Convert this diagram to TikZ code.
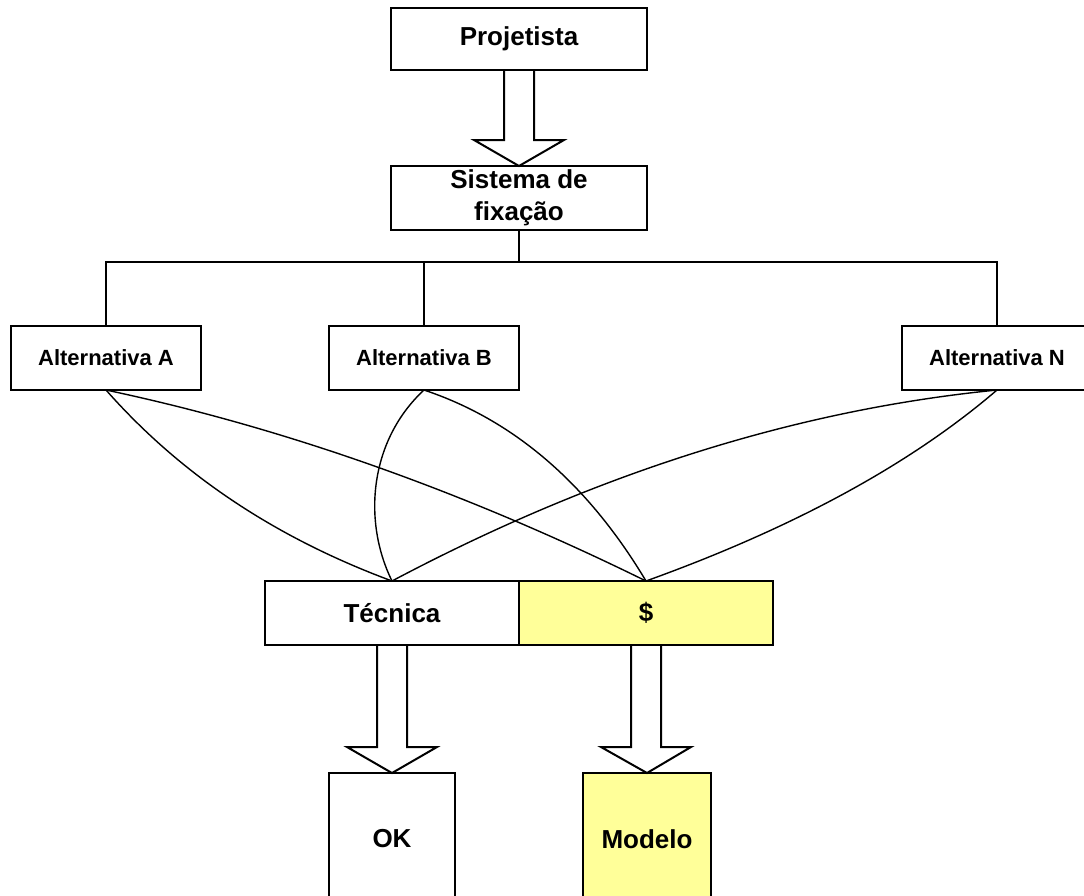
\documentclass[tikz,border=0pt]{standalone}
\usepackage{fontspec}
\setmainfont{Liberation Sans}
\usetikzlibrary{calc}
\definecolor{paleyellow}{HTML}{FFFF99}
\newcommand{\hollowarrow}[2]{%
  \draw[blockarrow] let \p1=(#1.south), \p2=(#2.north) in
    ({\x1-15pt},\y1) -- ({\x1-15pt},{\y2+26pt}) -- ({\x1-45pt},{\y2+26pt})
    -- (\x2,\y2) -- ({\x1+45pt},{\y2+26pt}) -- ({\x1+15pt},{\y2+26pt})
    -- ({\x1+15pt},\y1);}
\begin{document}
\begin{tikzpicture}[x=1pt,y=-1pt,
  box/.style={draw=black,line width=2pt,fill=white,inner sep=0pt,outer sep=0pt,
    align=center,font=\fontsize{26}{32}\selectfont\bfseries},
  altbox/.style={box,minimum width=190pt,minimum height=64pt,
    font=\fontsize{22}{25}\selectfont\bfseries},
  yellowbox/.style={box,fill=paleyellow},
  blockarrow/.style={draw=black,line width=2pt,line join=miter},
  link/.style={draw=black,line width=1.5pt},
  tie/.style={draw=black,line width=1.4pt,line join=round}]
\useasboundingbox (0,0) rectangle (1084,895);
\clip (0,0) rectangle (1084,895);

% boxes
\node[box,minimum width=256pt,minimum height=62pt] (proj) at (519,39) {Projetista};
\node[box,minimum width=256pt,minimum height=64pt] (sis) at (519,198) {Sistema de\\fixação};
\node[altbox] (altA) at (106,358) {Alternativa A};
\node[altbox] (altB) at (424,358) {Alternativa B};
\node[altbox] (altN) at (997,358) {Alternativa N};
\node[box,minimum width=254pt,minimum height=64pt] (tec) at (392,613) {Técnica};
\node[yellowbox,minimum width=254pt,minimum height=64pt] (dol) at (646,613) {\$};
\node[box,minimum width=126pt,minimum height=132pt] (ok) at (392,839) {OK};
\node[yellowbox,minimum width=128pt,minimum height=132pt] (mod) at (647,839) {Modelo};

% tree from the fixing system to the alternatives
\coordinate (bus) at (519,262);
\draw[link] (sis.south) -- (bus);
\draw[link] (altA.north) |- (bus) -| (altN.north);
\draw[link] (altB.north) -- (altB.north |- bus);

% hollow block arrows
\hollowarrow{proj}{sis}
\hollowarrow{tec}{ok}
\hollowarrow{dol}{mod}

% links from each alternative to both criteria
\draw[tie] (altA.south) .. controls +(75,85) and +(-116,-43) .. (tec.north);
\draw[tie] (altA.south) .. controls +(175,37) and +(-185,-91) .. (dol.north);
\draw[tie] (altB.south) .. controls +(-54,50) and +(-30,-61) .. (tec.north);
\draw[tie] (altB.south) .. controls +(90,30) and +(-58,-97) .. (dol.north);
\draw[tie] (altN.south) .. controls +(-202,20) and +(202,-107) .. (tec.north);
\draw[tie] (altN.south) .. controls +(-85,73) and +(150,-54) .. (dol.north);
\end{tikzpicture}
\end{document}
